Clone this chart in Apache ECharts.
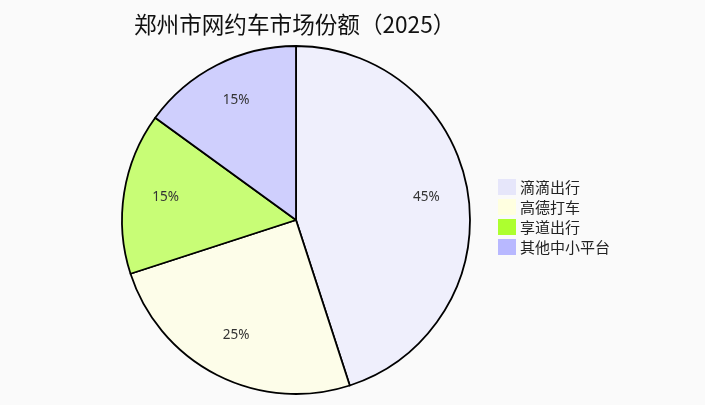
<!DOCTYPE html>
<html>
<head>
<meta charset="utf-8">
<script src="https://cdn.jsdelivr.net/npm/echarts@6/dist/echarts.min.js"></script>
<style>
html,body{margin:0;padding:0;background:#fafafa;}
#c{width:705px;height:405px;}
</style>
</head>
<body>
<div id="c"></div>
<script>
const titleText = '郑州市网约车市场份额（2025）';
const categories = ['滴滴出行', '高德打车', '享道出行', '其他中小平台'];
const shares = [45, 25, 15, 15];
const legendColors = ['#e6e6fa', '#ffffe0', '#adff2f', '#b8b8ff'];
const sliceColors = ['#efeffc', '#fdfde9', '#c8fd76', '#cfcffd'];

const chart = echarts.init(document.getElementById('c'), null, {renderer: 'canvas'});
const sliceData = categories.map((n, i) => ({
  name: n, value: shares[i],
  itemStyle: {color: sliceColors[i]}
}));
const labelData = categories.map((n, i) => ({name: n, value: shares[i]}));
chart.setOption({
  backgroundColor: '#fafafa',
  animation: false,
  title: {
    text: titleText,
    left: 129, top: 8,
    textStyle: {fontSize: 22.6, fontWeight: 'normal', color: '#111', fontFamily: 'Noto Sans CJK SC'}
  },
  legend: {
    orient: 'vertical',
    left: 498, top: 179,
    padding: 0,
    itemWidth: 18, itemHeight: 16, itemGap: 4,
    icon: 'rect',
    data: categories.map((n, i) => ({name: n, itemStyle: {color: legendColors[i], borderWidth: 0, opacity: 1}})),
    textStyle: {fontSize: 15, color: '#222', fontFamily: 'Noto Sans CJK SC', padding: [0, 0, 0, -1]}
  },
  series: [
    {
      type: 'pie',
      center: [296, 220],
      radius: [0, 174],
      startAngle: 90,
      clockwise: true,
      label: {show: false},
      labelLine: {show: false},
      itemStyle: {borderColor: '#000', borderWidth: 1.8},
      emphasis: {disabled: true},
      data: sliceData
    },
    {
      type: 'pie',
      center: [296, 218],
      radius: [84, 174],
      startAngle: 90,
      clockwise: true,
      silent: true,
      legendHoverLink: false,
      itemStyle: {color: 'rgba(0,0,0,0)', borderWidth: 0},
      label: {
        show: true, position: 'inside',
        formatter: p => p.value + '%',
        fontSize: 13.5, color: '#333', fontFamily: 'Noto Sans'
      },
      labelLine: {show: false},
      emphasis: {disabled: true},
      data: labelData
    }
  ]
});
</script>
</body>
</html>
